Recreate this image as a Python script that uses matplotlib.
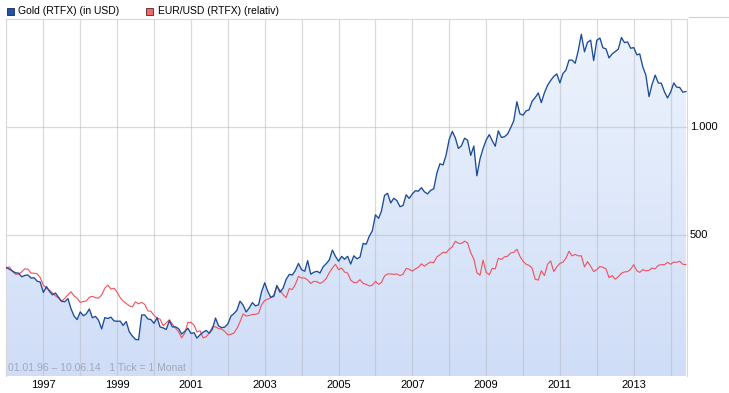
import numpy as np
import pandas as pd
import matplotlib
matplotlib.use('Agg')
import matplotlib.pyplot as plt
from matplotlib.patches import Rectangle
from matplotlib.lines import Line2D
from matplotlib.colors import LinearSegmentedColormap

# month-end values, Jan 1996 .. Jun 2014
gold_usd = [
    405.6, 400.7, 396.4, 392.0, 390.9, 382.0, 385.3, 386.5, 379.0, 379.5, 371.3, 369.3,
    345.5, 358.6, 348.2, 340.2, 344.1, 334.6, 326.4, 325.4, 332.1, 311.4, 296.8, 290.2,
    304.9, 297.4, 301.0, 310.7, 293.6, 296.3, 288.9, 273.4, 293.9, 292.3, 294.7, 287.8,
    287.1, 287.3, 279.5, 286.6, 268.6, 261.0, 255.6, 254.8, 299.0, 299.1, 291.4, 290.3,
    283.3, 293.7, 276.8, 275.1, 272.3, 288.2, 276.8, 277.0, 273.7, 264.5, 269.1, 274.5,
    265.6, 266.7, 257.7, 263.2, 267.5, 270.6, 265.9, 273.0, 293.1, 278.8, 275.5, 276.5,
    282.3, 296.9, 301.4, 308.2, 326.6, 318.5, 304.7, 312.8, 323.7, 316.9, 319.1, 347.2,
    367.5, 347.5, 334.9, 336.8, 361.4, 346.0, 354.8, 375.6, 388.0, 386.3, 398.4, 416.3,
    399.8, 395.9, 423.7, 388.5, 393.3, 395.8, 391.4, 407.3, 415.7, 425.6, 453.4, 435.6,
    422.2, 435.5, 427.5, 435.7, 414.5, 437.1, 429.0, 433.3, 473.3, 470.8, 495.7, 513.0,
    568.8, 556.0, 582.0, 644.0, 653.0, 613.5, 632.5, 623.5, 599.3, 603.8, 646.7, 632.0,
    650.5, 664.2, 661.8, 677.0, 659.1, 650.5, 665.5, 672.0, 743.0, 789.5, 783.5, 833.8,
    923.3, 971.5, 933.5, 871.0, 885.8, 930.3, 918.0, 833.0, 884.5, 730.8, 814.5, 869.8,
    919.5, 952.0, 916.5, 883.3, 975.5, 934.5, 939.0, 955.5, 995.8, 1040.0, 1175.8, 1087.5,
    1078.5, 1109.5, 1115.5, 1179.3, 1207.5, 1244.0, 1169.0, 1246.0, 1307.0, 1346.8, 1383.5, 1405.5,
    1327.0, 1411.0, 1439.0, 1535.5, 1536.5, 1505.5, 1628.5, 1813.5, 1620.0, 1722.0, 1746.0, 1531.0,
    1744.0, 1770.0, 1662.5, 1651.3, 1558.0, 1598.5, 1622.0, 1648.5, 1776.0, 1719.0, 1726.0, 1657.5,
    1664.8, 1588.5, 1598.3, 1469.0, 1394.5, 1215.0, 1314.5, 1394.8, 1326.5, 1324.0, 1253.0, 1204.5,
    1251.0, 1326.5, 1291.8, 1288.5, 1250.5, 1255.0,
]

eurusd_rel = [
    404, 407, 395, 388, 389, 394, 402, 401, 391, 391, 389, 380,
    362, 355, 351, 344, 338, 333, 326, 333, 340, 347, 338, 333,
    324, 326, 327, 335, 337, 334, 333, 340, 355, 362, 353, 355,
    346, 334, 327, 322, 317, 315, 325, 321, 324, 320, 307, 306,
    298, 293, 291, 279, 284, 290, 282, 275, 268, 258, 266, 285,
    285, 280, 268, 270, 258, 260, 266, 277, 277, 274, 273, 269,
    263, 264, 266, 274, 286, 301, 297, 298, 300, 300, 302, 319,
    328, 331, 334, 340, 360, 350, 341, 334, 354, 352, 364, 383,
    379, 379, 374, 366, 371, 370, 366, 370, 378, 392, 404, 414,
    400, 404, 394, 391, 374, 368, 368, 375, 366, 364, 360, 362,
    371, 364, 368, 384, 389, 389, 388, 389, 385, 388, 403, 401,
    396, 402, 406, 415, 409, 415, 420, 418, 434, 440, 447, 446,
    456, 463, 480, 474, 473, 480, 475, 446, 428, 392, 386, 425,
    393, 387, 403, 402, 430, 427, 434, 436, 445, 447, 456, 436,
    422, 414, 411, 404, 376, 374, 397, 385, 414, 423, 395, 407,
    416, 420, 430, 450, 437, 441, 437, 437, 407, 421, 409, 395,
    400, 408, 406, 402, 380, 385, 376, 382, 391, 394, 395, 401,
    413, 397, 393, 400, 397, 398, 404, 402, 411, 413, 413, 419,
    414, 420, 419, 422, 414, 413,
]

months = pd.date_range('1996-01-01', periods=len(gold_usd), freq='MS')
year_ticks = pd.date_range('1997-01-01', '2014-01-01', freq='YS')
label_years = year_ticks[::2]
y_grid = [500, 1000]
y_labels = ['500', '1.000']

W, H = 729, 393
fig = plt.figure(figsize=(W / 100, H / 100), dpi=100)
fig.patch.set_facecolor('white')

def fx(px):
    return px / W

def fy(py):
    return 1 - py / H

left, right, top, bottom = 6.4, 686.5, 19, 376
ax = fig.add_axes([fx(left), fy(bottom), fx(right - left), fy(top) - fy(bottom)])
ax.set_yscale('log')
ax.set_ylim(202, 2000)
ax.set_xlim(months[0], pd.Timestamp('2014-06-07'))
ax.set_facecolor('white')

# gradient fill below the gold line
poly = ax.fill_between(months, gold_usd, 1, color='none', lw=0)
cmap = LinearSegmentedColormap.from_list('fill', ['#cfddf7', '#eef4fd'])
grad = np.linspace(0, 1, 256).reshape(-1, 1)
im = ax.imshow(grad, cmap=cmap, origin='lower', aspect='auto',
               extent=[0, 1, 0, 1], transform=ax.transAxes, zorder=1)
im.set_clip_path(poly.get_paths()[0], ax.transData)

# grid
for d in year_ticks:
    ax.axvline(d, color='#b8bcc4', alpha=0.55, lw=0.9, zorder=2)
for v in y_grid:
    ax.axhline(v, color='#b8bcc4', alpha=0.55, lw=0.9, zorder=2)

ax.plot(months, eurusd_rel, color='#f0505c', lw=0.8, zorder=3)
ax.plot(months, gold_usd, color='#1b4c9a', lw=0.95, zorder=4)

ax.set_xticks([])
ax.set_yticks([])
ax.yaxis.set_minor_locator(matplotlib.ticker.NullLocator())
for s in ['left', 'top', 'right']:
    ax.spines[s].set_color('#d8d8d8')
    ax.spines[s].set_linewidth(0.8)
ax.spines['bottom'].set_visible(False)

font = 'Liberation Sans'
fs = 7.5

# x labels under the axis
for d in label_years:
    ax.text(d, -0.012, str(d.year), transform=ax.get_xaxis_transform(),
            ha='center', va='top', fontsize=8, family=font, color='black')
# y labels on the right
for v, lab in zip(y_grid, y_labels):
    ax.text(1.005, v, lab, transform=ax.get_yaxis_transform(),
            ha='left', va='center', fontsize=8, family=font, color='black')

ax.text(0.003, 0.008, '01.01.96 \u2013 10.06.14   1 Tick = 1 Monat', transform=ax.transAxes,
        ha='left', va='bottom', fontsize=fs, family=font, color='#a2a9b8', zorder=5)

# legend
fig.add_artist(Rectangle((fx(7), fy(15)), fx(7), fy(8) - fy(15), transform=fig.transFigure,
                         facecolor='#1f55a8', edgecolor='#1a2a50', lw=0.6))
fig.text(fx(18), fy(11.5), 'Gold (RTFX) (in USD)', ha='left', va='center',
         fontsize=fs, family=font, color='black')
fig.add_artist(Rectangle((fx(146), fy(15)), fx(7), fy(8) - fy(15), transform=fig.transFigure,
                         facecolor='#f06868', edgecolor='#5a2020', lw=0.6))
fig.text(fx(157.5), fy(11.5), 'EUR/USD (RTFX) (relativ)', ha='left', va='center',
         fontsize=fs, family=font, color='black')

# short rule at the top right corner
fig.add_artist(Line2D([fx(689), fx(729)], [fy(17), fy(17)], transform=fig.transFigure,
                      color='#d0d0d0', lw=0.8))

fig.savefig('out.png', dpi=100)
